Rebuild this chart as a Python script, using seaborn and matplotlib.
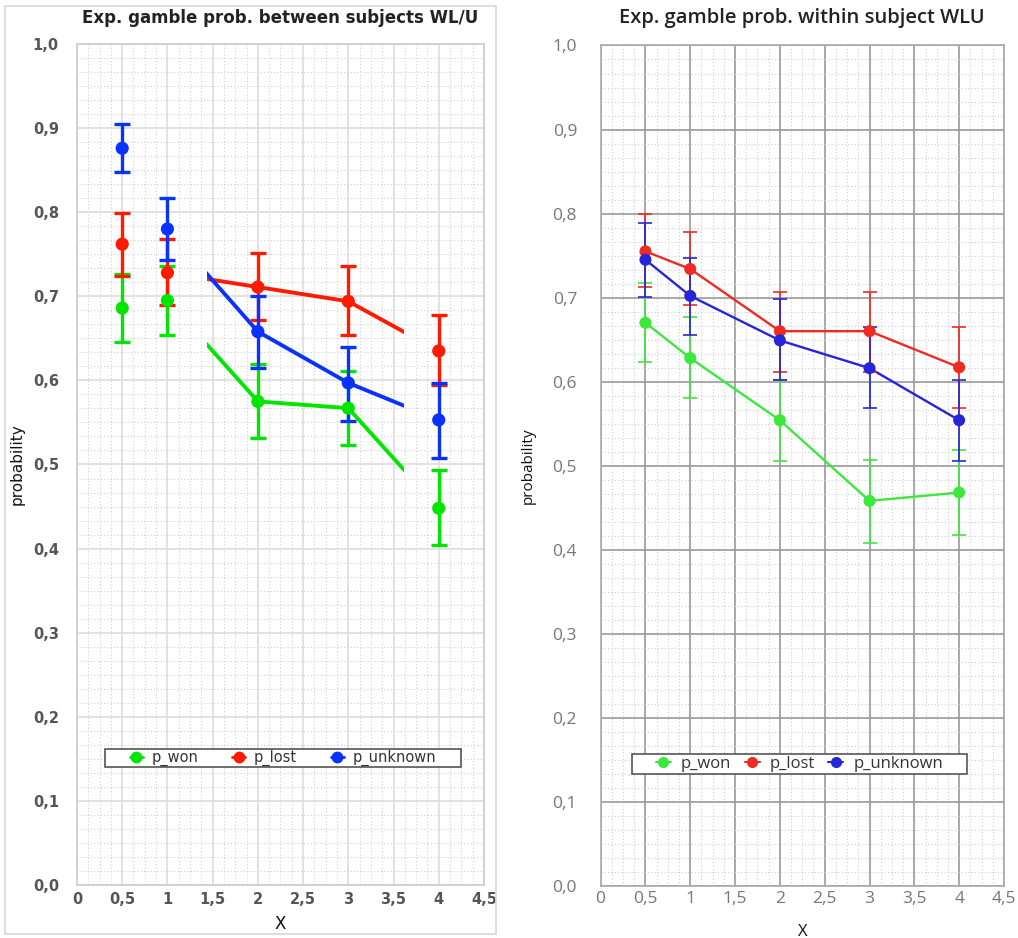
import numpy as np
import pandas as pd
import matplotlib
matplotlib.use("Agg")
import matplotlib.pyplot as plt
from matplotlib.lines import Line2D
from matplotlib.patches import Rectangle
from matplotlib.ticker import MultipleLocator, AutoMinorLocator, FuncFormatter
import seaborn as sns

# ── data ─────────────────────────────────────────────────────────────────────
x_vals = [0.5, 1, 2, 3, 4]
series = ["p_won", "p_lost", "p_unknown"]

# between subjects (left)
btw_won     = [0.686, 0.695, 0.575, 0.567, 0.448]
btw_won_lo  = [0.646, 0.654, 0.531, 0.523, 0.404]
btw_won_hi  = [0.727, 0.736, 0.620, 0.611, 0.493]
btw_lost    = [0.762, 0.728, 0.711, 0.694, 0.635]
btw_lost_lo = [0.724, 0.690, 0.672, 0.654, 0.594]
btw_lost_hi = [0.799, 0.768, 0.751, 0.736, 0.678]
btw_unk     = [0.876, 0.780, 0.658, 0.597, 0.553]
btw_unk_lo  = [0.848, 0.743, 0.615, 0.552, 0.508]
btw_unk_hi  = [0.905, 0.817, 0.700, 0.640, 0.597]

# within subject (right)
win_won     = [0.670, 0.628, 0.554, 0.458, 0.468]
win_won_lo  = [0.623, 0.580, 0.506, 0.408, 0.418]
win_won_hi  = [0.717, 0.677, 0.602, 0.507, 0.519]
win_lost    = [0.755, 0.734, 0.660, 0.660, 0.617]
win_lost_lo = [0.713, 0.691, 0.612, 0.612, 0.569]
win_lost_hi = [0.799, 0.778, 0.707, 0.707, 0.665]
win_unk     = [0.745, 0.702, 0.649, 0.616, 0.554]
win_unk_lo  = [0.701, 0.656, 0.602, 0.569, 0.506]
win_unk_hi  = [0.789, 0.747, 0.698, 0.665, 0.602]

left_colors  = {"p_won": "#00e600", "p_lost": "#ff1a00", "p_unknown": "#0a32ff"}
right_colors = {"p_won": "#3de83d", "p_lost": "#ee2a22", "p_unknown": "#2626d8"}


def to_frame(won, lost, unk, lo, hi):
    rows = []
    for name, m, l, h in zip(series, (won, lost, unk), lo, hi):
        for x, mv, lv, hv in zip(x_vals, m, l, h):
            rows.append({"X": x, "series": name, "p": mv, "lo": lv, "hi": hv})
    return pd.DataFrame(rows)


df_btw = to_frame(btw_won, btw_lost, btw_unk,
                  (btw_won_lo, btw_lost_lo, btw_unk_lo),
                  (btw_won_hi, btw_lost_hi, btw_unk_hi))
df_win = to_frame(win_won, win_lost, win_unk,
                  (win_won_lo, win_lost_lo, win_unk_lo),
                  (win_won_hi, win_lost_hi, win_unk_hi))

comma_y = FuncFormatter(lambda v, _: f"{v:.1f}".replace(".", ","))
comma_x = FuncFormatter(lambda v, _: f"{v:g}".replace(".", ","))


def style_axes(ax, major_col, minor_col, tick_col, spine_col, font, weight,
               size, ypad, xpad, xlpad, ylpad):
    ax.set_xlim(0, 4.5)
    ax.set_ylim(0, 1.0)
    ax.xaxis.set_major_locator(MultipleLocator(0.5))
    ax.yaxis.set_major_locator(MultipleLocator(0.1))
    ax.xaxis.set_minor_locator(AutoMinorLocator(4))
    ax.yaxis.set_minor_locator(AutoMinorLocator(6))
    ax.xaxis.set_major_formatter(comma_x)
    ax.yaxis.set_major_formatter(comma_y)
    ax.grid(True, which="major", color=major_col, lw=1.2, zorder=0)
    ax.grid(True, which="minor", color=minor_col, lw=0.8, ls=(0, (1, 2)), zorder=0)
    ax.set_axisbelow(True)
    ax.tick_params(which="both", length=0, colors=tick_col, labelsize=size,
                   labelfontfamily=font)
    ax.tick_params(axis="y", pad=ypad)
    ax.tick_params(axis="x", pad=xpad)
    for lab in ax.get_xticklabels() + ax.get_yticklabels():
        lab.set_fontweight(weight)
    for s in ax.spines.values():
        s.set_color(spine_col)
        s.set_linewidth(1.2)
    ax.set_xlabel("X", fontsize=12, family=font, color="#111111", labelpad=xlpad)
    ax.set_ylabel("probability", fontsize=11, family=font, color="#111111",
                  labelpad=ylpad)


def draw_errors(ax, df, colors, lw, cap, ms):
    for name in series:
        d = df[df["series"] == name]
        ax.errorbar(d["X"], d["p"], yerr=[d["p"] - d["lo"], d["hi"] - d["p"]],
                    fmt="none", ecolor=colors[name], elinewidth=lw,
                    capsize=cap, capthick=lw, zorder=3)
    sns.scatterplot(data=df, x="X", y="p", hue="series", palette=colors,
                    s=ms, edgecolor="none", legend=False, ax=ax, zorder=4)


def add_legend(ax, colors, box, font, size, ms, lw, colsp):
    x0, y0, w, h = box
    ax.add_patch(Rectangle((x0, y0), w, h, transform=ax.transAxes,
                           facecolor="white", edgecolor="#555555", lw=1.2,
                           zorder=5))
    handles = [Line2D([0], [0], color=colors[n], marker="o", ms=ms, lw=lw)
               for n in series]
    leg = ax.legend(handles, series, loc="center",
                    bbox_to_anchor=(x0 + w / 2, y0 + h / 2), ncol=3,
                    frameon=False, handlelength=0.9, handletextpad=0.6,
                    columnspacing=colsp, borderpad=0.0,
                    prop={"family": font, "size": size})
    for t in leg.get_texts():
        t.set_color("#333333")
    leg.set_zorder(6)


sns.set_style("white")
plt.rcParams["font.family"] = ["DejaVu Sans"]
fig = plt.figure(figsize=(10.18, 9.38), dpi=100)
fig.patch.set_facecolor("white")

# ── left: between subjects ───────────────────────────────────────────────────
ax1 = fig.add_axes([0.0756, 0.0565, 0.3998, 0.8966])
sns.lineplot(data=df_btw, x="X", y="p", hue="series", palette=left_colors,
             lw=2.8, legend=False, ax=ax1, zorder=2)
clip = Rectangle((1.435, 0), 3.62 - 1.435, 1, transform=ax1.transData)
for ln in ax1.get_lines():
    ln.set_clip_path(clip)
draw_errors(ax1, df_btw, left_colors, 2.4, 6, 90)
style_axes(ax1, "#dddddd", "#d0d0d0", "#555555", "#cccccc", "DejaVu Sans",
           "bold", 10.5, 13, 5, 6, 6)
ax1.set_title("Exp. gamble prob. between subjects WL/U", fontsize=12,
              fontweight="bold", family="DejaVu Sans", color="#222222", pad=15)
add_legend(ax1, left_colors, (0.069, 0.140, 0.874, 0.022), "DejaVu Sans",
           10.5, 7.5, 2.0, 2.3)
fig.add_artist(Rectangle((0.005, 0.004), 0.482, 0.99, transform=fig.transFigure,
                         fill=False, edgecolor="#d8d8d8", lw=1.2))

# ── right: within subject ────────────────────────────────────────────────────
ax2 = fig.add_axes([0.590, 0.0557, 0.3962, 0.8958])
sns.lineplot(data=df_win, x="X", y="p", hue="series", palette=right_colors,
             lw=1.7, legend=False, ax=ax2, zorder=2)
draw_errors(ax2, df_win, right_colors, 1.2, 5, 75)
style_axes(ax2, "#999999", "#cfcfcf", "#777777", "#aaaaaa", "Open Sans",
           "normal", 12.5, 17, 4, 12, 12)
ax2.set_title("Exp. gamble prob. within subject WLU", fontsize=14.5,
              fontweight="semibold", family="Open Sans", color="#222222", pad=16)
add_legend(ax2, right_colors, (0.078, 0.133, 0.830, 0.024), "Open Sans",
           12, 7, 1.5, 0.8)

fig.savefig("out.png", dpi=100)
